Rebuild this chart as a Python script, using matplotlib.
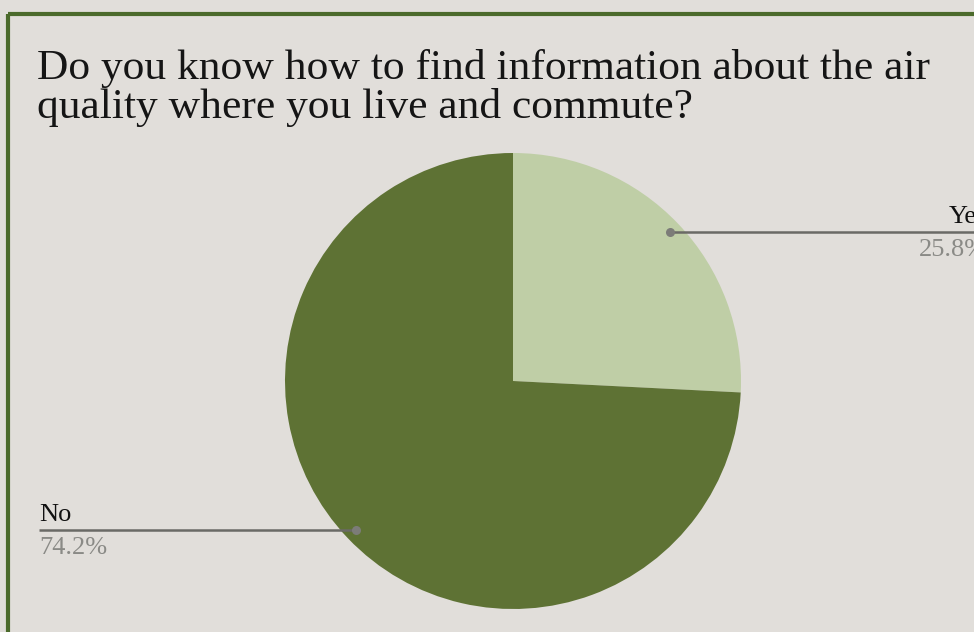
import numpy as np
import matplotlib.pyplot as plt
from matplotlib.patches import Rectangle

W, H = 974, 632

title_lines = ["Do you know how to find information about the air",
               "quality where you live and commute?"]
labels = ["Yes", "No"]
shares = [25.8, 74.2]
colors = ["#bfcea6", "#5e7234"]

bg = "#e1deda"
frame_green = "#4b6a2b"
line_grey = "#6a6a66"
pct_grey = "#8a8a86"
serif = ["Liberation Serif", "DejaVu Serif"]

fig = plt.figure(figsize=(W / 100, H / 100), dpi=100, facecolor=bg)
ax = fig.add_axes([0, 0, 1, 1])
ax.set_facecolor(bg)


def py(y):
    # pixel rows are counted from the top
    return H - y


# green frame, running off the right and bottom edges
ax.add_patch(Rectangle((8, py(14)), 1200, -1200, fill=False,
                       edgecolor=frame_green, linewidth=3.0, zorder=1))

for i, line in enumerate(title_lines):
    ax.text(37, py(79 + 39 * i), line, fontsize=31.3, family=serif,
            color="#151515", va="baseline", ha="left", zorder=3)

cx, cy, r = 513, py(381), 228
wedges, _ = ax.pie(shares, colors=colors, startangle=90, counterclock=False,
                   radius=r, center=(cx, cy), frame=True,
                   wedgeprops=dict(linewidth=0))

for w, lab, val in zip(wedges, labels, shares):
    mid = np.deg2rad((w.theta1 + w.theta2) / 2)
    dx, dy = cx + 0.95 * r * np.cos(mid), cy + 0.95 * r * np.sin(mid)
    if np.cos(mid) > 0:
        x_end, ha = 987, "right"
    else:
        x_end, ha = 39, "left"
    ax.plot([dx, x_end], [dy, dy], color=line_grey, lw=1.8,
            solid_capstyle="butt", zorder=4)
    ax.plot(dx, dy, "o", color="#7c7c78", ms=6.5, mec="none", zorder=5)
    ax.text(x_end, dy + 9, lab, fontsize=19, family=serif, color="#111111",
            ha=ha, va="baseline", zorder=5)
    ax.text(x_end, dy - 24, f"{val:.1f}%", fontsize=19, family=serif,
            color=pct_grey, ha=ha, va="baseline", zorder=5)

ax.set_xlim(0, W)
ax.set_ylim(0, H)
ax.set_axis_off()

fig.savefig("out.png", dpi=100, facecolor=bg)
